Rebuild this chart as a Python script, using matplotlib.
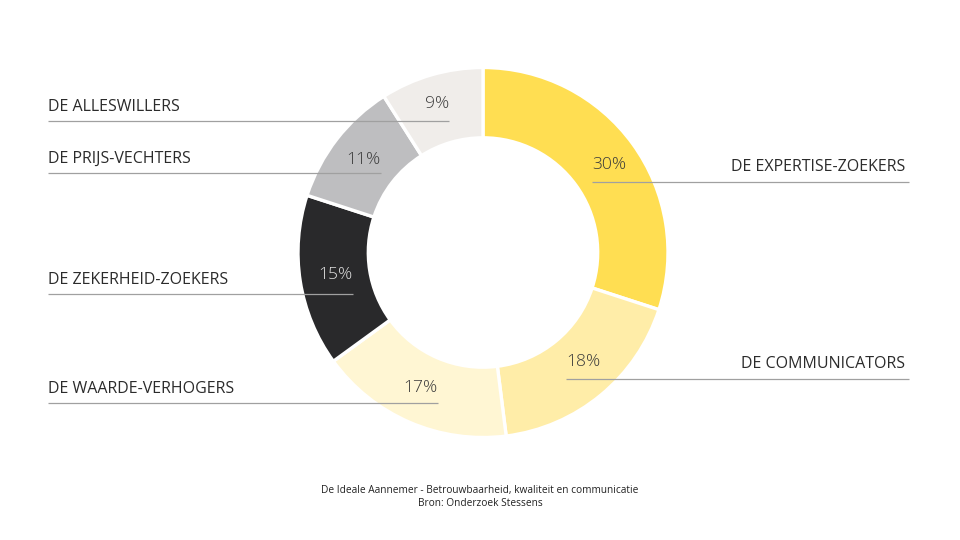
import matplotlib.pyplot as plt

# donut data, clockwise from the top
segments = ['DE EXPERTISE-ZOEKERS', 'DE COMMUNICATORS', 'DE WAARDE-VERHOGERS',
            'DE ZEKERHEID-ZOEKERS', 'DE PRIJS-VECHTERS', 'DE ALLESWILLERS']
shares = [30, 18, 17, 15, 11, 9]
colors = ['#FFDE52', '#FFEDA8', '#FFF6D3', '#29292B', '#BEBEC0', '#F0EDEA']
footer = ['De Ideale Aannemer - Betrouwbaarheid, kwaliteit en communicatie',
          'Bron: Onderzoek Stessens']

# layout in pixels (y from top): label line height, percent label anchor
side = ['right', 'right', 'left', 'left', 'left', 'left']
line_y = [182, 379, 403, 294, 173, 121]
pct_x = [592, 566, 438, 353, 381, 449]
pct_y = [165, 362, 388, 275, 160, 104]
pct_color = ['#3a3a3a', '#3a3a3a', '#3a3a3a', '#e0e0e0', '#3a3a3a', '#3a3a3a']

W, H = 960, 540
plt.rcParams['font.family'] = ['Open Sans', 'DejaVu Sans']

fig = plt.figure(figsize=(W / 100, H / 100), dpi=100)
ax = fig.add_axes([0, 0, 1, 1])


def py(y):
    return H - y


ax.pie(shares, colors=colors, startangle=90, counterclock=False,
       center=(483, py(252.5)), radius=185,
       wedgeprops=dict(width=185 * 0.38, edgecolor='white', linewidth=2.4))

for name, s, ly, px, pyy, pc, sd in zip(segments, shares, line_y, pct_x,
                                        pct_y, pct_color, side):
    if sd == 'left':
        ax.plot([48, px], [py(ly), py(ly)], color='#a0a0a0', lw=0.9,
                zorder=5, solid_capstyle='butt')
        ax.text(48, py(ly - 14), name, ha='left', va='center',
                fontsize=11.5, color='#2b2b2b', zorder=6)
        ax.text(px, py(pyy), f'{s}%', ha='right', va='center',
                fontsize=12.6, color=pc, fontweight='light', zorder=6)
    else:
        ax.plot([px, 909], [py(ly), py(ly)], color='#a0a0a0', lw=0.9,
                zorder=5, solid_capstyle='butt')
        ax.text(905, py(ly - 15), name, ha='right', va='center',
                fontsize=11.5, color='#2b2b2b', zorder=6)
        ax.text(px, py(pyy), f'{s}%', ha='left', va='center',
                fontsize=12.6, color=pc, fontweight='light', zorder=6)

ax.text(480, py(491), footer[0], ha='center', va='center',
        fontsize=7.25, color='#222222')
ax.text(480, py(503), footer[1], ha='center', va='center',
        fontsize=7.25, color='#222222')

ax.set_xlim(0, W)
ax.set_ylim(0, H)
ax.set_aspect('auto')
ax.axis('off')

fig.savefig('out.png', dpi=100, facecolor='white')
